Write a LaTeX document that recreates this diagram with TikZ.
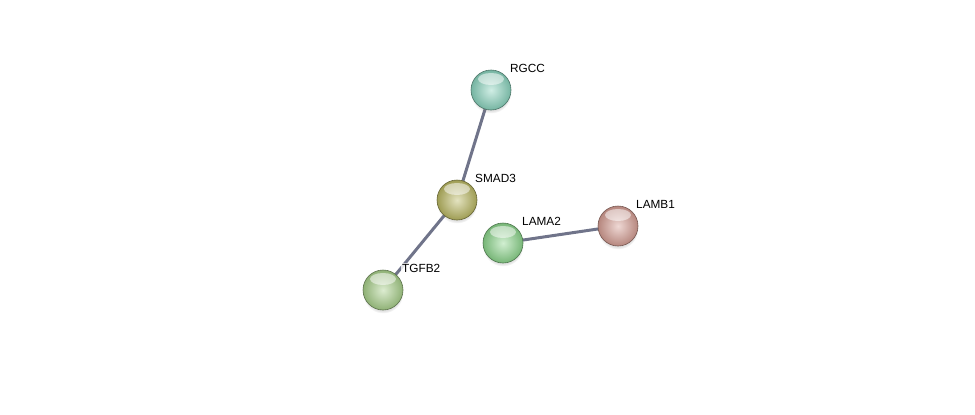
\documentclass[tikz,border=0pt]{standalone}
\usepackage{fontspec}
\setmainfont{Liberation Sans}
\usetikzlibrary{shadows,backgrounds}
\definecolor{edgegrey}{RGB}{112,116,138}
\definecolor{rgcccol}{RGB}{138,212,190}
\definecolor{smadcol}{RGB}{186,184,98}
\definecolor{tgfbcol}{RGB}{168,208,138}
\definecolor{lamacol}{RGB}{140,214,140}
\definecolor{lambcol}{RGB}{214,158,148}

\begin{document}
\begin{tikzpicture}[x=1pt, y=-1pt, font=\fontsize{11.8}{13}\selectfont,
  prot/.style={circle, minimum size=40pt, inner sep=0pt,
    draw=#1!55!black, line width=0.6pt,
    inner color=#1!40!white, outer color=#1!85!black,
    circular drop shadow={shadow xshift=0pt, shadow yshift=-3pt,
      opacity=0.25, shadow scale=1.02},
    path picture={\fill[white, opacity=0.5]
      ([yshift=-9pt]path picture bounding box.north) ellipse (13pt and 6pt);}},
  tag/.style={anchor=west, inner sep=1pt, fill=white, fill opacity=0.8, text opacity=1},
  link/.style={draw=edgegrey, line width=3pt}]
\useasboundingbox (0,0) rectangle (975,415);
\node[prot=rgcccol] (rgcc) at (491,90) {};
\node[prot=smadcol] (smad) at (457,200) {};
\node[prot=tgfbcol] (tgfb) at (383,290) {};
\node[prot=lamacol] (lama) at (503,243) {};
\node[prot=lambcol] (lamb) at (618,226) {};
\begin{scope}[on background layer]
  \draw[link] (rgcc.center) -- (smad.center);
  \draw[link] (smad.center) -- (tgfb.center);
  \draw[link] (lama.center) -- (lamb.center);
\end{scope}
\node[tag] (rgcclab) at (509,68) {RGCC};
\node[tag] (smadlab) at (474,178) {SMAD3};
\node[tag] (tgfblab) at (401,268) {TGFB2};
\node[tag] (lamalab) at (521,221) {LAMA2};
\node[tag] (lamblab) at (635,204) {LAMB1};
\end{tikzpicture}
\end{document}
